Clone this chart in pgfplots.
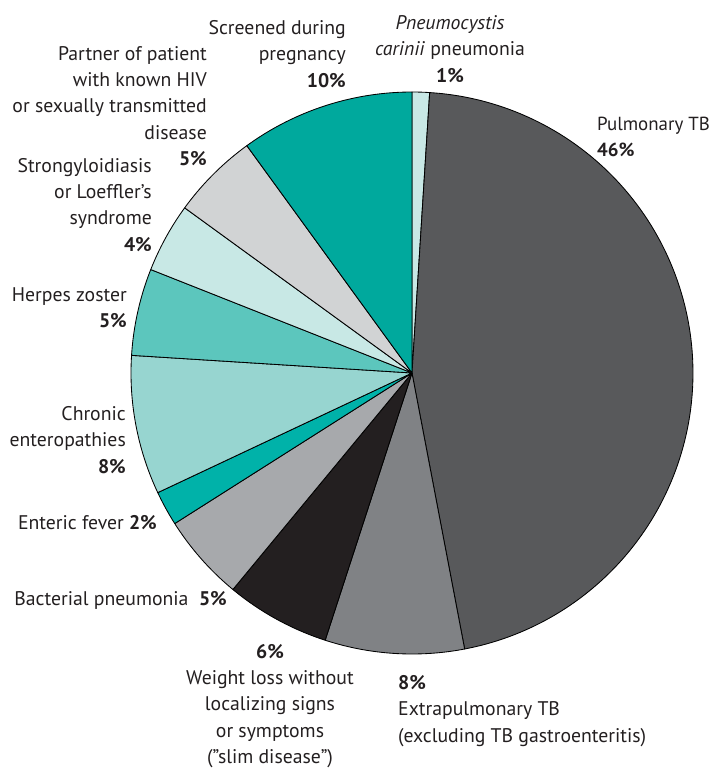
\documentclass[border=0pt]{standalone}
\usepackage{fontspec}
\setmainfont{PT Sans}
\usepackage{pgfplots}
\pgfplotsset{compat=1.18}
\definecolor{cPCP}{HTML}{C8E8E5}
\definecolor{cPTB}{HTML}{58595B}
\definecolor{cEPTB}{HTML}{808285}
\definecolor{cWL}{HTML}{231F20}
\definecolor{cBP}{HTML}{A7A9AC}
\definecolor{cEF}{HTML}{00B2A9}
\definecolor{cCE}{HTML}{97D5D0}
\definecolor{cHZ}{HTML}{5CC6BD}
\definecolor{cSL}{HTML}{C8E8E5}
\definecolor{cPA}{HTML}{D1D3D4}
\definecolor{cSP}{HTML}{00A99D}
\definecolor{txt}{HTML}{231F20}
% slice: cumulative start (%), share (%), colour
\newcommand{\slice}[3]{%
  \addplot[fill=#3, draw=black, line width=0.85pt, line join=round,
    domain=90-3.6*(#1+#2):90-3.6*#1, samples=80, smooth=false]
    ({cos(x)},{sin(x)}) -- (axis cs:0,0) -- cycle;}
\begin{document}
\begin{tikzpicture}
\path[use as bounding box] (-412bp,-396bp) rectangle (302bp,373bp);
\begin{axis}[
  at={(0,0)}, anchor=origin,
  scale only axis, width=562bp, height=562bp,
  xmin=-1, xmax=1, ymin=-1, ymax=1,
  hide axis, clip=false,
]
\slice{0}{1}{cPCP}
\slice{1}{46}{cPTB}
\slice{47}{8}{cEPTB}
\slice{55}{6}{cWL}
\slice{61}{5}{cBP}
\slice{66}{2}{cEF}
\slice{68}{8}{cCE}
\slice{76}{5}{cHZ}
\slice{81}{4}{cSL}
\slice{85}{5}{cPA}
\slice{90}{10}{cSP}
\end{axis}
\begin{scope}[every node/.style={inner sep=0pt, text=txt, font=\fontsize{19.8}{26.3}\selectfont}]
\node[anchor=east, align=right] at (-66bp,319bp) {Screened during\\pregnancy\\\textbf{10\%}};
\node[anchor=east, align=right] at (-205bp,267bp) {Partner of patient\\with known HIV\\or sexually transmitted\\disease\\\textbf{5\%}};
\node[anchor=east, align=right] at (-260bp,168bp) {Strongyloidiasis\\or Loeffler’s\\syndrome\\\textbf{4\%}};
\node[anchor=east, align=right] at (-285bp,65bp) {Herpes zoster\\\textbf{5\%}};
\node[anchor=east, align=right] at (-286bp,-67bp) {Chronic\\enteropathies\\\textbf{8\%}};
\node[anchor=east] at (-255bp,-150bp) {Enteric fever \textbf{2\%}};
\node[anchor=east] at (-185bp,-227bp) {Bacterial pneumonia \ \textbf{5\%}};
\node[anchor=center, align=center] at (-142bp,-333bp) {\textbf{6\%}\\Weight loss without\\localizing signs\\or symptoms\\(”slim disease”)};
\node[anchor=west, align=left] at (-14bp,-338bp) {\textbf{8\%}\\Extrapulmonary TB\\(excluding TB gastroenteritis)};
\node[anchor=west, align=left, font=\fontsize{19}{26.3}\selectfont] at (185bp,236bp) {Pulmonary TB\\\textbf{46\%}};
\node[anchor=center, align=center] at (38bp,324bp) {\textit{Pneumocystis}\\\textit{carinii} pneumonia\\\textbf{1\%}};
\end{scope}
\end{tikzpicture}
\end{document}
